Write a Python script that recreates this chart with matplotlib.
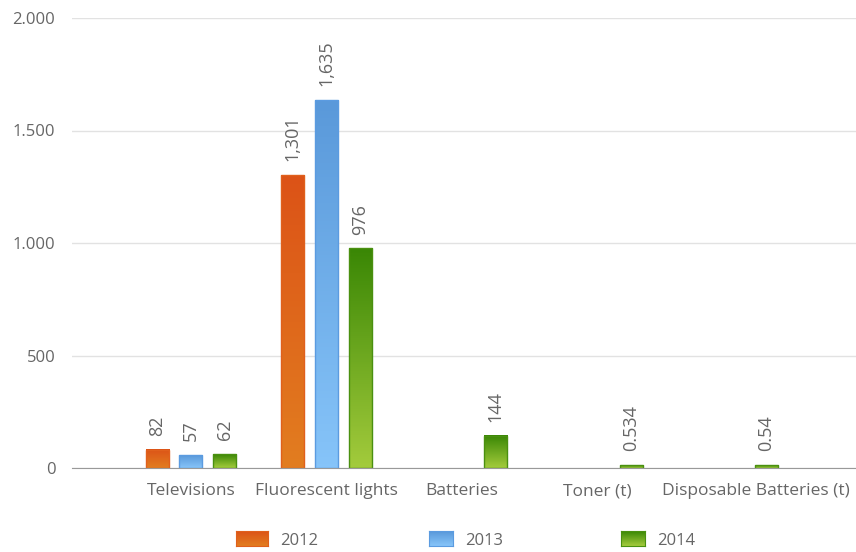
import matplotlib
matplotlib.use("Agg")
import matplotlib.pyplot as plt
import numpy as np
from matplotlib.colors import LinearSegmentedColormap
from matplotlib.patches import Rectangle
from matplotlib.transforms import ScaledTranslation

categories = ["Televisions", "Fluorescent lights", "Batteries", "Toner (t)", "Disposable Batteries (t)"]
years = ["2012", "2013", "2014"]
values_2012 = [82, 1301, None, None, None]
values_2013 = [57, 1635, None, None, None]
values_2014 = [62, 976, 144, 0.534, 0.54]
labels_2012 = ["82", "1,301", "", "", ""]
labels_2013 = ["57", "1,635", "", "", ""]
labels_2014 = ["62", "976", "144", "0.534", "0.54"]
y_ticks = [0, 500, 1000, 1500, 2000]
y_tick_labels = ["0", "500", "1.000", "1.500", "2.000"]

# top colour, bottom colour, edge colour
styles = [
    ("#dc5317", "#e27d20", "#e0601c"),
    ("#5a99da", "#86c4f9", "#5b9be0"),
    ("#3a8705", "#a3cb3c", "#4a9010"),
]

TEXT = "#666666"
plt.rcParams["font.family"] = ["Open Sans", "DejaVu Sans"]

fig = plt.figure(figsize=(8.56, 5.52), dpi=100)
ax = fig.add_axes([72 / 856, 1 - 468 / 552, 1 - 72 / 856, (468 - 18) / 552])

x = np.arange(len(categories))
width = 0.17
offsets = [-0.248, 0.0, 0.248]
min_h = 12  # smallest visible bar height

series = [(values_2012, labels_2012), (values_2013, labels_2013), (values_2014, labels_2014)]
for (vals, labs), off, (c_top, c_bot, c_edge) in zip(series, offsets, styles):
    cmap = LinearSegmentedColormap.from_list("g", [c_bot, c_top])
    grad = np.linspace(0, 1, 100).reshape(-1, 1)
    for xi, v, lab in zip(x, vals, labs):
        if v is None:
            continue
        h = max(v, min_h)
        x0 = xi + off - width / 2
        ax.imshow(grad, extent=[x0, x0 + width, 0, h], origin="lower",
                  aspect="auto", cmap=cmap, zorder=3)
        ax.add_patch(Rectangle((x0, 0), width, h, fill=False, edgecolor=c_edge,
                               linewidth=1.0, zorder=4))
        ax.annotate(lab, (xi + off, h), xytext=(0, 10), textcoords="offset points",
                    rotation=90, ha="center", va="bottom", fontsize=13, color=TEXT)

ax.set_xlim(-0.878, 4.908)
ax.set_ylim(0, 2000)
ax.set_yticks(y_ticks)
ax.set_yticklabels(y_tick_labels, fontsize=12)
ax.set_xticks(x)
ax.set_xticklabels(categories, fontsize=12.5)
ax.tick_params(axis="both", length=0, colors=TEXT)
ax.tick_params(axis="x", pad=11)
ax.tick_params(axis="y", pad=12)
# last label sits a bit right, like the original
last = ax.get_xticklabels()[-1]
last.set_transform(last.get_transform() + ScaledTranslation(0.23, 0, fig.dpi_scale_trans))

ax.grid(axis="y", color="#e2e2e2", linewidth=1.0)
ax.set_axisbelow(True)
for s in ["top", "right", "left"]:
    ax.spines[s].set_visible(False)
ax.spines["bottom"].set_color("#999999")
ax.spines["bottom"].set_zorder(5)

# legend
leg_x = [236, 429, 621]
leg_w = [32, 24, 24]
for lx, lw, yr, (c_top, c_bot, c_edge) in zip(leg_x, leg_w, years, styles):
    cmap = LinearSegmentedColormap.from_list("g", [c_bot, c_top])
    lax = fig.add_axes([lx / 856, 1 - 546 / 552, lw / 856, 15 / 552])
    lax.imshow(np.linspace(0, 1, 50).reshape(-1, 1), origin="lower", aspect="auto", cmap=cmap)
    lax.set_xticks([])
    lax.set_yticks([])
    for sp in lax.spines.values():
        sp.set_color(c_edge)
    fig.text((lx + lw + 12) / 856, 1 - 541 / 552, yr, fontsize=12, color=TEXT,
             ha="left", va="center")

fig.savefig("out.png", dpi=100)
